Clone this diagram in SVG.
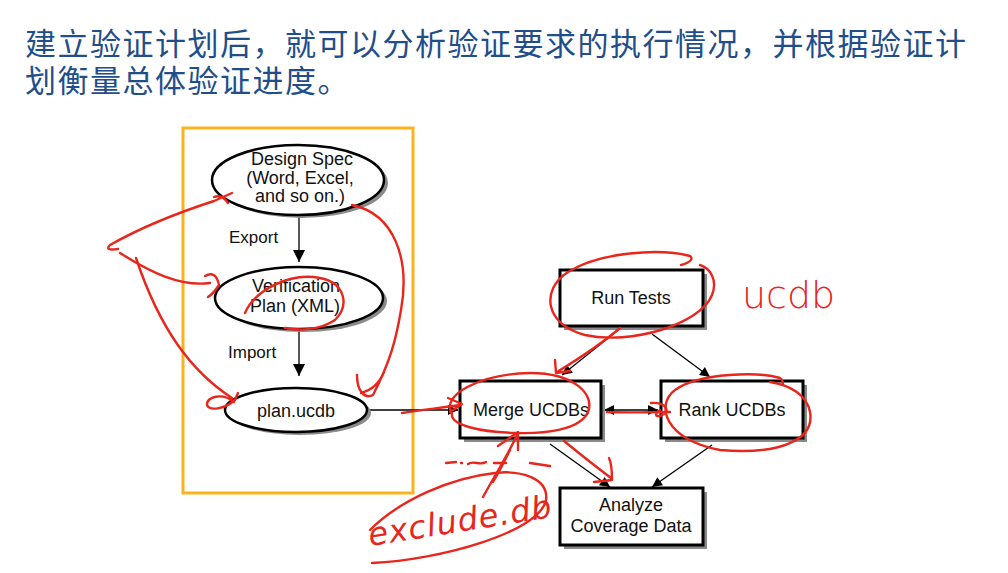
<svg xmlns="http://www.w3.org/2000/svg" width="1008" height="573" viewBox="0 0 1008 573">
  <style>
    .title { font-family: "Noto Sans CJK SC", "Noto Sans", sans-serif; font-size: 31px; letter-spacing: 1.5px; fill: #1F4E8A; }
    .lbl { font-family: "Liberation Sans", Arial, sans-serif; font-size: 18px; fill: #111; text-anchor: middle; }
    .side { font-family: "Liberation Sans", Arial, sans-serif; font-size: 17px; fill: #111; }
    .ell { fill: #fff; stroke: #000; stroke-width: 2.5; }
    .box { fill: #fff; stroke: #000; stroke-width: 3; }
    .shadow { fill: #8a8a8a; }
    .edge { fill: none; stroke: #000; stroke-width: 1.3; }
    .ink { fill: none; stroke: #E8261C; stroke-width: 2.4; stroke-linecap: round; stroke-linejoin: round; }
    .hand { font-family: "DejaVu Sans", sans-serif; fill: #E8261C; }
  </style>
  <defs>
    <marker id="headBig" viewBox="0 0 10 10" refX="10" refY="5" markerWidth="16" markerHeight="12" markerUnits="userSpaceOnUse" orient="auto">
      <path d="M0,0 L10,5 L0,10 z" fill="#000"/>
    </marker>
    <marker id="head" viewBox="0 0 10 10" refX="10" refY="5" markerWidth="14" markerHeight="10" markerUnits="userSpaceOnUse" orient="auto">
      <path d="M0,0 L10,5 L0,10 z" fill="#000"/>
    </marker>
    <marker id="headStart" viewBox="0 0 10 10" refX="0" refY="5" markerWidth="14" markerHeight="10" markerUnits="userSpaceOnUse" orient="auto">
      <path d="M10,0 L0,5 L10,10 z" fill="#000"/>
    </marker>
  </defs>

  <rect width="1008" height="573" fill="#fff"/>

  <!-- heading -->
  <text class="title" x="25" y="55">建立验证计划后，就可以分析验证要求的执行情况，并根据验证计</text>
  <text class="title" x="25" y="92">划衡量总体验证进度。</text>

  <!-- highlight frame around the planning flow -->
  <rect x="183" y="128" width="230" height="365" fill="none" stroke="#F9B31E" stroke-width="3"/>

  <!-- connectors -->
  <g id="connectors">
    <line class="edge" x1="299" y1="216" x2="299" y2="262" stroke-width="1.6" marker-end="url(#headBig)"/>
    <line class="edge" x1="299" y1="331" x2="299" y2="376" stroke-width="1.6" marker-end="url(#headBig)"/>
    <line class="edge" x1="367" y1="410" x2="458" y2="410" marker-end="url(#head)"/>
    <line class="edge" x1="622" y1="327" x2="562" y2="375" marker-end="url(#head)"/>
    <line class="edge" x1="652" y1="334" x2="710" y2="377" marker-end="url(#head)"/>
    <line class="edge" x1="604" y1="410" x2="658" y2="410" marker-start="url(#headStart)" marker-end="url(#head)"/>
    <line class="edge" x1="550" y1="444" x2="610" y2="487" marker-end="url(#head)"/>
    <line class="edge" x1="712" y1="445" x2="652" y2="487" marker-end="url(#head)"/>
    <text class="side" x="229" y="243">Export</text>
    <text class="side" x="228" y="358">Import</text>
  </g>

  <!-- planning nodes -->
  <g id="design-spec">
    <ellipse class="shadow" cx="302" cy="183" rx="86" ry="35"/>
    <ellipse class="ell" cx="298" cy="180" rx="86" ry="35"/>
    <text class="lbl" x="302" y="165">Design Spec</text>
    <text class="lbl" x="300" y="184">(Word, Excel,</text>
    <text class="lbl" x="300" y="202">and so on.)</text>
  </g>
  <g id="verification-plan">
    <ellipse class="shadow" cx="303" cy="301" rx="84" ry="31"/>
    <ellipse class="ell" cx="299" cy="298" rx="84" ry="31"/>
    <text class="lbl" x="296" y="292">Verification</text>
    <text class="lbl" x="295" y="312">Plan (XML)</text>
  </g>
  <g id="plan-ucdb">
    <ellipse class="shadow" cx="300" cy="413" rx="71" ry="22"/>
    <ellipse class="ell" cx="296" cy="410" rx="71" ry="22"/>
    <text class="lbl" x="296" y="417">plan.ucdb</text>
  </g>

  <!-- coverage flow nodes -->
  <g id="run-tests">
    <rect class="shadow" x="564" y="274" width="143" height="56"/>
    <rect class="box" x="560" y="270" width="143" height="56"/>
    <text class="lbl" x="631" y="304">Run Tests</text>
  </g>
  <g id="merge-ucdbs">
    <rect class="shadow" x="464" y="385" width="141" height="57"/>
    <rect class="box" x="460" y="381" width="141" height="57"/>
    <text class="lbl" x="531" y="416">Merge UCDBs</text>
  </g>
  <g id="rank-ucdbs">
    <rect class="shadow" x="665" y="385" width="142" height="57"/>
    <rect class="box" x="661" y="381" width="142" height="57"/>
    <text class="lbl" x="732" y="416">Rank UCDBs</text>
  </g>
  <g id="analyze">
    <rect class="shadow" x="564" y="492" width="143" height="57"/>
    <rect class="box" x="560" y="488" width="143" height="57"/>
    <text class="lbl" x="631" y="511">Analyze</text>
    <text class="lbl" x="631" y="532">Coverage Data</text>
  </g>

  <!-- red pen annotations -->
  <g id="annotations">
    <!-- fan of arrows from the left margin -->
    <path class="ink" d="M118 249 Q104 251 110 245 C140 228 180 212 214 201 L232 193 M214 197 Q222 194 228 203"/>
    <path class="ink" d="M120 253 C150 272 180 287 210 283 M205 276 Q216 270 219 285 Q214 293 208 297"/>
    <path class="ink" d="M136 258 C160 330 192 372 232 398 M234 402 C222 392 206 397 207 405 C210 412 226 408 235 400 L238 393"/>
    <!-- loop from design spec down to plan.ucdb -->
    <path class="ink" d="M352 205 C395 214 410 260 401 310 C396 340 390 362 373 395 C365 399 357 392 357 375 M361 393 C372 390 380 382 384 372"/>
    <!-- scribble over the XML plan -->
    <path class="ink" d="M245 313 C255 290 290 272 320 278 C345 283 350 305 335 320 C320 330 300 331 285 328"/>
    <!-- plan.ucdb into merge -->
    <path class="ink" d="M402 413 C420 410 440 408 460 405 M448 398 L462 404 L450 412"/>
    <!-- circle around merge -->
    <path class="ink" d="M452 414 C440 395 480 374 530 373 C575 373 595 395 588 412 C580 430 545 434 515 433 C480 432 450 425 452 414"/>
    <!-- run tests circled and pointed at merge -->
    <path class="ink" d="M681 265 C692 262 693 258 690 256 C660 248 600 252 568 272 C540 290 545 325 585 335 C630 345 700 325 712 295 C718 280 710 268 700 265"/>
    <path class="ink" d="M620 328 C600 345 580 358 557 372 M555 360 L556 373 L570 371"/>
    <!-- merge to rank -->
    <path class="ink" d="M607 412 C630 413 650 412 670 412 M651 403 C665 402 670 410 664 414 C658 418 652 416 660 410"/>
    <!-- circle around rank -->
    <path class="ink" d="M783 385 C783 382 782 379 780 378 C760 372 700 372 675 390 C655 405 665 440 720 450 C780 455 815 440 810 412 C807 395 790 385 770 382"/>
    <!-- merge to analyze -->
    <path class="ink" d="M564 441 C580 454 595 466 611 478 M594 482 L612 480 C612 470 611 462 609 458"/>
    <!-- exclude.db with arrow into merge -->
    <path class="ink" d="M483 497 C495 475 508 455 518 433 M498 446 L518 432 L518 450 M493 482 C500 470 505 460 510 450"/>
    <path class="ink" d="M446 463 L456 462 M461 463 L462 463 M468 464 C474 460 480 466 486 462 M494 463 L506 463 M530 463 L550 466"/>
    <path class="ink" d="M372 563 C440 560 540 532 546 500 C549 478 520 470 495 473 C450 478 400 500 370 530"/>
    <text class="hand" x="370" y="546" font-size="32" font-weight="200" font-style="italic" letter-spacing="1" transform="rotate(-9 370 546)">exclude.db</text>
    <text class="hand" x="742" y="308" font-size="38" font-weight="200">ucdb</text>
  </g>
</svg>
